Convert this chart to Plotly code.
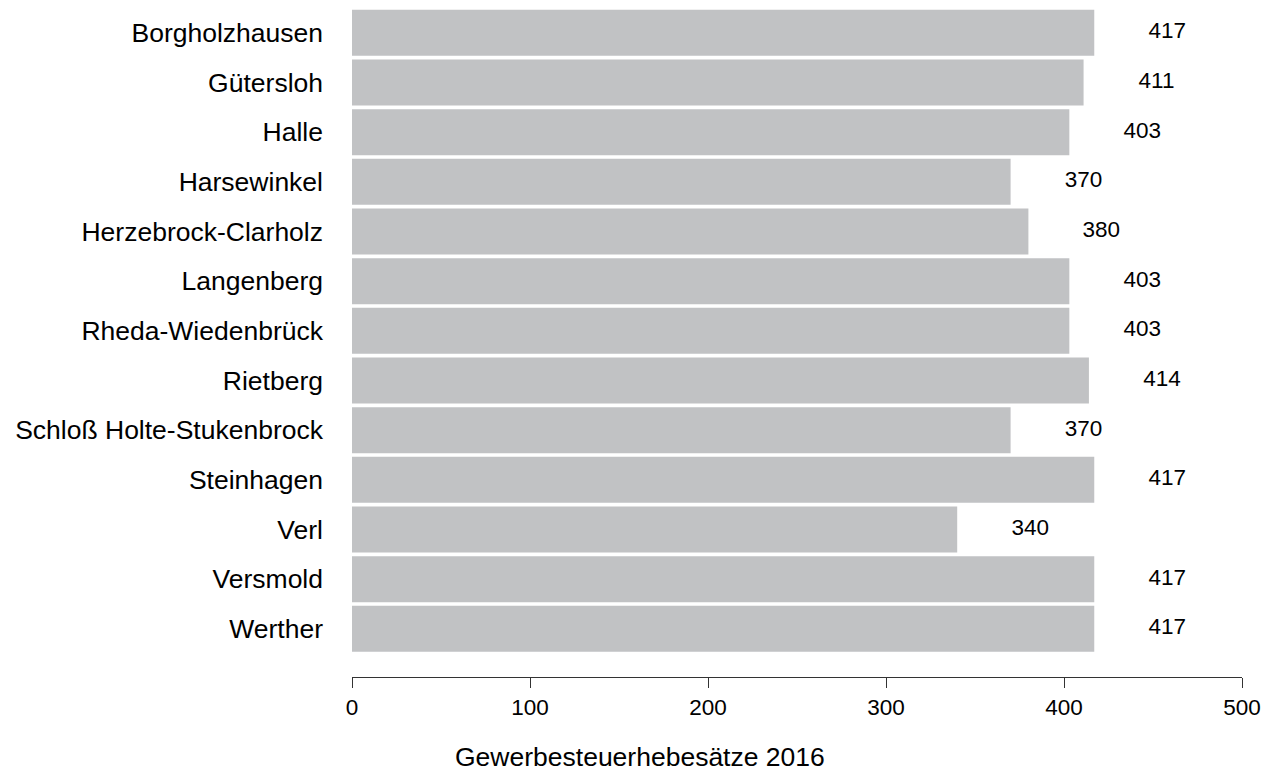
import plotly.graph_objects as go

# Gewerbesteuerhebesätze 2016, Kreis Gütersloh
gemeinden = [
    "Borgholzhausen", "Gütersloh", "Halle", "Harsewinkel", "Herzebrock-Clarholz",
    "Langenberg", "Rheda-Wiedenbrück", "Rietberg", "Schloß Holte-Stukenbrock",
    "Steinhagen", "Verl", "Versmold", "Werther",
]
hebesaetze = [417, 411, 403, 370, 380, 403, 403, 414, 370, 417, 340, 417, 417]
x_ticks = [0, 100, 200, 300, 400, 500]

BAR_COLOR = "#c1c2c4"
AXIS_COLOR = "#333333"
FONT = "Liberation Sans, Arial, sans-serif"
LABEL_OFFSET = 41  # Abstand Wertebeschriftung zum Balkenende (Achseneinheiten)

fig = go.Figure()
fig.add_trace(go.Bar(
    x=hebesaetze, y=gemeinden, orientation="h",
    marker=dict(color=BAR_COLOR, line=dict(width=0)),
    hoverinfo="x+y",
))
fig.add_trace(go.Scatter(
    x=[v + LABEL_OFFSET for v in hebesaetze], y=gemeinden,
    mode="text", text=[str(v) for v in hebesaetze],
    textposition="middle center",
    textfont=dict(size=22.5, color="#000000", family=FONT),
    hoverinfo="skip",
))

# Seite hat 8px Rand -> Figur entsprechend kleiner
fig.update_layout(
    width=1264, height=768,
    margin=dict(l=344, r=30, t=0, b=99),
    paper_bgcolor="white", plot_bgcolor="white",
    showlegend=False, bargap=0.075,
    font=dict(family=FONT, color="#000000"),
    xaxis=dict(
        range=[0, 500], tickvals=x_ticks, showgrid=False, zeroline=False,
        showline=True, linecolor=AXIS_COLOR, linewidth=1,
        ticks="outside", ticklen=10, tickcolor=AXIS_COLOR,
        tickfont=dict(size=22.5), fixedrange=True,
    ),
    yaxis=dict(
        type="category", categoryorder="array", categoryarray=gemeinden,
        range=[12.97, -0.5], showgrid=False, zeroline=False, showline=False,
        ticks="", ticklabelstandoff=28, tickfont=dict(size=26.5),
        fixedrange=True,
    ),
    annotations=[dict(
        text="Gewerbesteuerhebesätze 2016", xref="paper", yref="paper",
        x=0.3236, y=-0.12, xanchor="center", yanchor="middle",
        showarrow=False, borderpad=0, font=dict(size=26.5),
    )],
)

fig.write_html("out.html")
